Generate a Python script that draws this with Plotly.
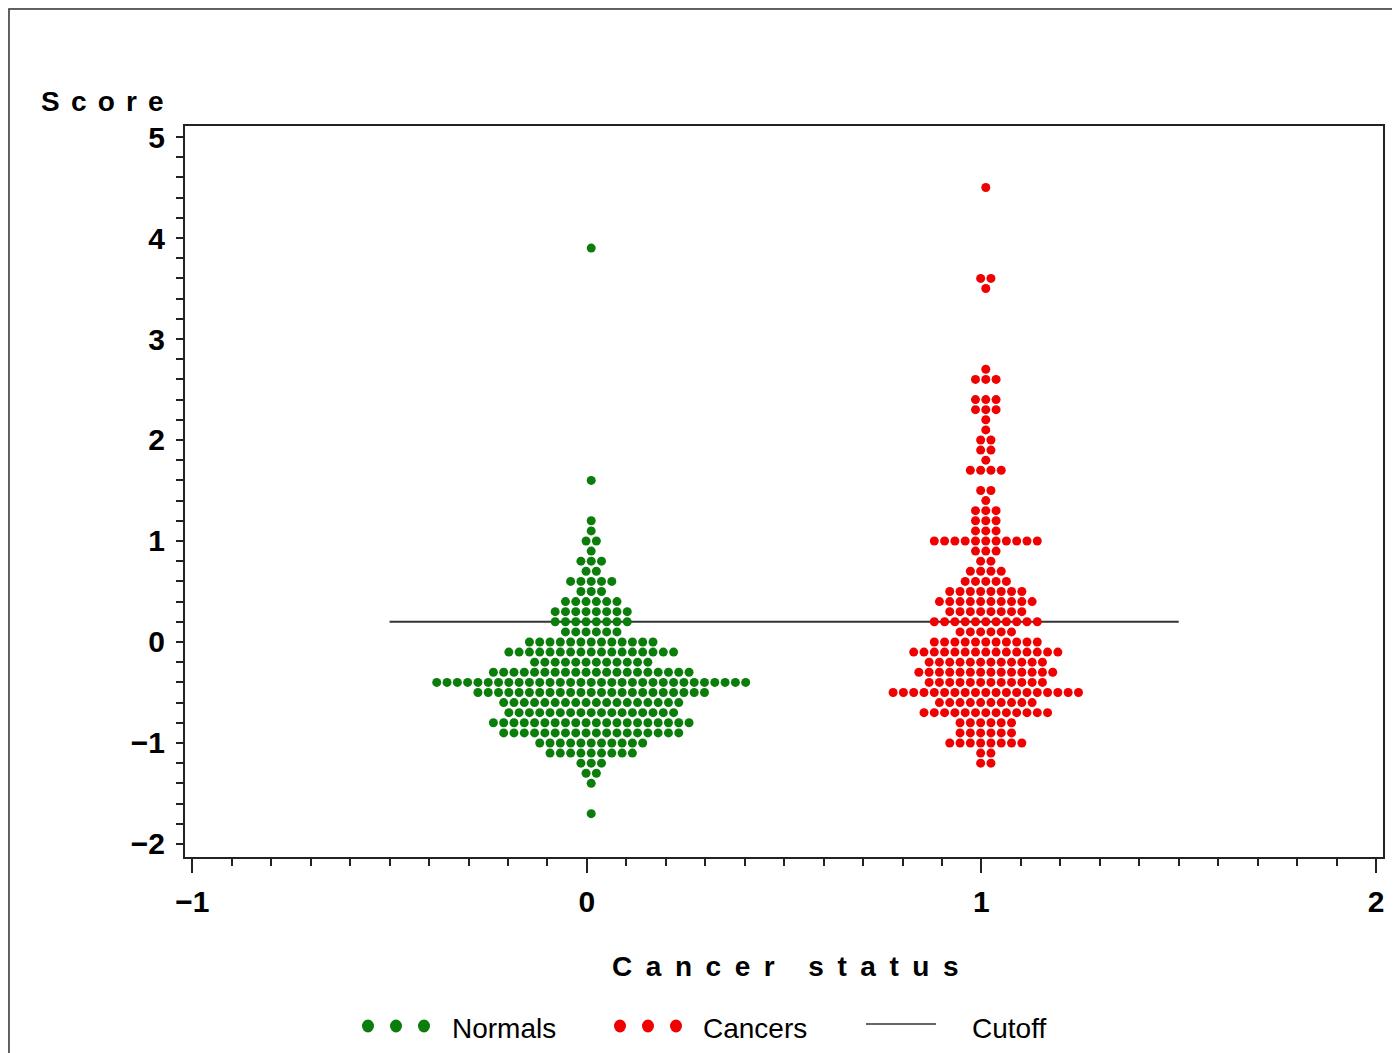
import plotly.graph_objects as go

# ---------------- data ----------------
normal_scores = [3.9, 1.6, 1.2, 1.1, 1.0, 0.9, 0.8, 0.7, 0.6, 0.5, 0.4, 0.3, 0.2, 0.1, 0.0,
                 -0.1, -0.2, -0.3, -0.4, -0.5, -0.6, -0.7, -0.8, -0.9, -1.0, -1.1, -1.2,
                 -1.3, -1.4, -1.7]
normal_counts = [1, 1, 1, 1, 2, 1, 3, 2, 5, 3, 6, 8, 8, 6, 13,
                 17, 12, 20, 31, 23, 18, 17, 20, 18, 11, 9, 3,
                 2, 1, 1]

cancer_scores = [4.5, 3.6, 3.5, 2.7, 2.6, 2.4, 2.3, 2.2, 2.1, 2.0, 1.9, 1.8, 1.7, 1.5, 1.4,
                 1.3, 1.2, 1.1, 1.0, 0.9, 0.8, 0.7, 0.6, 0.5, 0.4, 0.3, 0.2, 0.1, 0.0,
                 -0.1, -0.2, -0.3, -0.4, -0.5, -0.6, -0.7, -0.8, -0.9, -1.0, -1.1, -1.2]
cancer_counts = [1, 2, 1, 1, 3, 3, 3, 1, 1, 2, 2, 1, 4, 2, 1,
                 3, 3, 3, 11, 3, 2, 4, 5, 8, 10, 8, 11, 6, 11,
                 15, 12, 14, 12, 19, 10, 13, 6, 6, 8, 2, 2]

group_status = [0, 1]          # cancer status of each group
cutoff_value = 0.2
cutoff_x = [-0.5, 1.5]

x_tick_vals = [-1, 0, 1, 2]
x_tick_text = ["\u22121", "0", "1", "2"]
y_tick_vals = [-2, -1, 0, 1, 2, 3, 4, 5]
y_tick_text = ["\u22122", "\u22121", "0", "1", "2", "3", "4", "5"]

# ---------------- layout constants ----------------
OFF = 8                      # page body margin of the html page
W, H = 1400 - OFF, 1053 - OFF
ML, MR, MT, MB = 185 - OFF, 17, 126 - OFF, 196
PW, PH = W - ML - MR, H - MT - MB
DOT_STEP = 0.0261      # horizontal spacing between stacked dots (x units)
CENTER_SHIFT = 0.011


def swarm(center, scores, counts):
    xs, ys = [], []
    for s, n in zip(scores, counts):
        for i in range(n):
            xs.append(center + CENTER_SHIFT + (i - (n - 1) / 2) * DOT_STEP)
            ys.append(s)
    return xs, ys


def px(xp):
    return (xp - OFF - ML) / PW


def py(yp):
    return (H - MB - (yp - OFF)) / PH


GREEN = "#0b7d0b"
RED = "#f00000"

fig = go.Figure()
nx, ny = swarm(group_status[0], normal_scores, normal_counts)
cx, cy = swarm(group_status[1], cancer_scores, cancer_counts)

fig.add_trace(go.Scatter(x=cutoff_x, y=[cutoff_value, cutoff_value], mode="lines",
                         line=dict(color="#333333", width=2), name="Cutoff",
                         showlegend=False, hoverinfo="skip"))
fig.add_trace(go.Scatter(x=nx, y=ny, mode="markers", name="Normals",
                         marker=dict(color=GREEN, size=9, line=dict(width=0)),
                         showlegend=False))
fig.add_trace(go.Scatter(x=cx, y=cy, mode="markers", name="Cancers",
                         marker=dict(color=RED, size=9, line=dict(width=0)),
                         showlegend=False))

tickfont = dict(family="Liberation Sans, Arial, sans-serif", size=30, color="black",
                weight="bold")

fig.update_xaxes(range=[-1.0185, 2.0177], tickvals=x_tick_vals, ticktext=x_tick_text,
                 ticks="outside", ticklen=14, tickwidth=2, tickcolor="#222",
                 showline=True, linecolor="#222", linewidth=2, mirror=True,
                 showgrid=False, zeroline=False, tickfont=tickfont,
                 ticklabelstandoff=3,
                 minor=dict(dtick=0.1, tick0=0, ticks="outside", ticklen=7,
                            tickwidth=2, tickcolor="#222", showgrid=False))
fig.update_yaxes(range=[-2.129, 5.109], tickvals=y_tick_vals, ticktext=y_tick_text,
                 ticks="outside", ticklen=7, tickwidth=2, tickcolor="#222",
                 showline=True, linecolor="#222", linewidth=2, mirror=True,
                 showgrid=False, zeroline=False, tickfont=tickfont,
                 ticklabelstandoff=5,
                 minor=dict(dtick=0.2, tick0=0, ticks="outside", ticklen=7,
                            tickwidth=2, tickcolor="#222", showgrid=False))

shapes = [
    # white panel with thin dark edge on light cyan background
    dict(type="rect", xref="paper", yref="paper", x0=px(OFF + 1), x1=px(1420),
         y0=py(1080), y1=py(OFF + 1), fillcolor="white",
         line=dict(color="#333333", width=1.5), layer="below"),
]

annotations = []
boldfont = dict(family="Liberation Sans, Arial, sans-serif", size=28, color="black")
G1 = "\u2009\u2009"
G2 = "\u2009\u2009\u200a"
annotations.append(dict(xref="paper", yref="paper", x=px(39), y=py(101), xanchor="left",
                        yanchor="middle", showarrow=False, font=boldfont,
                        text="<b>" + G1.join("Score") + "</b>"))
annotations.append(dict(xref="paper", yref="paper", x=px(785), y=py(966), xanchor="center",
                        yanchor="middle", showarrow=False, font=boldfont,
                        text="<b>" + G2.join("Cancer") + "\u2002\u2002\u2009" + G2.join("status") + "</b>"))

# legend drawn by hand (three dots per symbol as in the original)
legfont = dict(family="Liberation Sans, Arial, sans-serif", size=28, color="black")
leg_y = 1026
for xs_, col in (([368, 396, 424], GREEN), ([620, 648, 676], RED)):
    for xc in xs_:
        shapes.append(dict(type="circle", xref="paper", yref="paper",
                           xsizemode="pixel", ysizemode="pixel",
                           xanchor=px(xc), yanchor=py(leg_y),
                           x0=-6, x1=6, y0=-6.5, y1=6.5,
                           fillcolor=col, line=dict(width=0)))
shapes.append(dict(type="line", xref="paper", yref="paper", x0=px(866), x1=px(936),
                   y0=py(leg_y - 2), y1=py(leg_y - 2), line=dict(color="#333333", width=1.5)))
for xl, label in ((450, "Normals"), (701, "Cancers"), (970, "Cutoff")):
    annotations.append(dict(xref="paper", yref="paper", x=px(xl), y=py(leg_y + 2),
                            xanchor="left", yanchor="middle", showarrow=False,
                            font=legfont, text=label))

fig.update_layout(width=W, height=H, margin=dict(l=ML, r=MR, t=MT, b=MB, pad=0),
                  paper_bgcolor="#b5f6ff", plot_bgcolor="white",
                  shapes=shapes, annotations=annotations, showlegend=False)

fig.write_html("out.html")
